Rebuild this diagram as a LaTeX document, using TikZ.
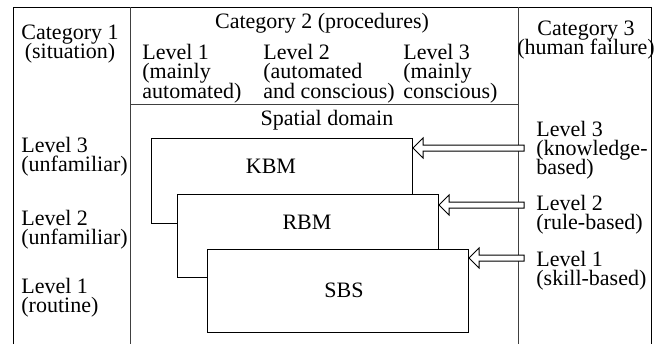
\documentclass[tikz,border=0pt]{standalone}
\usepackage{fontspec}
\setmainfont{Liberation Serif}
\usetikzlibrary{calc}
\setlength{\lineskiplimit}{-20pt}
\begin{document}
\begin{tikzpicture}[x=0.5pt, y=-0.5pt,
    every node/.style={inner sep=0pt, font=\fontsize{11}{9.4}\selectfont},
    txt/.style={anchor=west, align=left},
    wide/.style={font=\fontsize{11}{9.7}\selectfont},
    box/.style={draw, fill=white, line width=0.5pt, minimum width=130.5pt, anchor=north west},
    hollow/.style={draw, fill=white, line width=0.5pt, to path={let \p1=(\tikztostart), \p2=(\tikztotarget) in
      (\x1,\y1+1.5pt) -- (\x2+5pt,\y1+1.5pt) -- (\x2+5pt,\y1+5pt) -- (\x2,\y1)
      -- (\x2+5pt,\y1-5pt) -- (\x2+5pt,\y1-1.5pt) -- (\x1,\y1-1.5pt) -- cycle}}]
  \useasboundingbox (0,0) rectangle (659,344);
  % table frame
  \draw[line width=0.5pt] (13,344) -- (13,7) -- (651,7) -- (651,344);
  \draw[line width=0.5pt, black!75] (130,7) -- (130,344)
                                    (518,7) -- (518,344)
                                    (130,104) -- (518,104);
  % headings
  \node (cat1) at (70,44) [align=center] {Category 1\\(situation)};
  \node (cat2) at (322,23) {Category 2 (procedures)};
  \node (cat3) at (586,40) [align=center] {Category 3\\(human failure)};
  \node[txt, wide] (proc1) at (142,73.5) {Level 1\\(mainly\\automated)};
  \node[txt, wide] (proc2) at (263,73.5) {Level 2\\(automated\\and conscious)};
  \node[txt, wide] (proc3) at (403,73.5) {Level 3\\(mainly\\conscious)};
  \node (spatial) at (327,120) {Spatial domain};
  % left and right columns
  \node[txt] (sit3) at (21,157) {Level 3\\(unfamiliar)};
  \node[txt] (sit2) at (21,230) {Level 2\\(unfamiliar)};
  \node[txt] (sit1) at (21,298) {Level 1\\(routine)};
  \node[txt] (fail3) at (536,150) {Level 3\\(knowledge-\\based)};
  \node[txt] (fail2) at (536,215) {Level 2\\(rule-based)};
  \node[txt] (fail1) at (536,271) {Level 1\\(skill-based)};
  % stacked behaviour boxes
  \node[box, minimum height=42.5pt] (kbm) at (151,138) {};
  \node[box, minimum height=41.5pt] (rbm) at (177,194) {};
  \node[box, minimum height=41.5pt] (sbs) at (207,249) {};
  \node (kbmtext) at (271,166) {KBM};
  \node (rbmtext) at (307,222) {RBM};
  \node (sbstext) at (344,290) {SBS};
  % arrows from failure levels
  \coordinate (from3) at (524,148);
  \coordinate (from2) at (524,205);
  \coordinate (from1) at (524,258);
  \draw[hollow] (from3) to (kbm.east |- from3);
  \draw[hollow] (from2) to (rbm.east |- from2);
  \draw[hollow] (from1) to (sbs.east |- from1);
\end{tikzpicture}
\end{document}
